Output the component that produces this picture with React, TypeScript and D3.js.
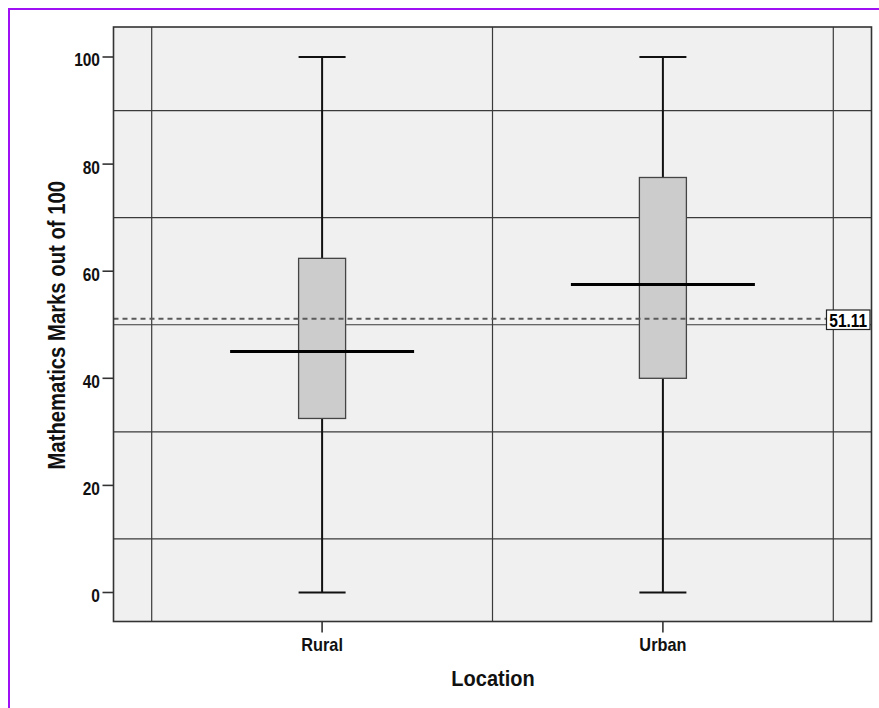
import React from "react";
import * as d3 from "d3";

const categories = ["Rural", "Urban"];
const minVals = [0, 0];
const q1Vals = [32.5, 40];
const medianVals = [45, 57.5];
const q3Vals = [62.4, 77.5];
const maxVals = [100, 100];
const meanRef = 51.11;
const yTicks = [0, 20, 40, 60, 80, 100];
const yGrid = [10, 30, 50, 70, 90];

export default function App() {
  const W = 879, H = 708;
  const plotL = 113.5, plotR = 871.5, plotT = 27, plotB = 621.5;
  const y = d3.scaleLinear().domain([0, 100]).range([592.5, 57]);
  const x = d3.scaleBand().domain(categories).range([151.7, 833.3]).padding(0);
  const bw = x.bandwidth();
  const boxW = 47;
  const medW = 184;
  const font = "'Liberation Sans', Arial, sans-serif";
  const labelX = 826.5;

  return (
    <svg width={W} height={H} style={{ position: "absolute", left: 0, top: 0, display: "block" }}>
      <rect x={0} y={0} width={W} height={H} fill="#ffffff" />
      <rect x={9} y={9} width={W + 50} height={H + 50} fill="none" stroke="#a010f5" strokeWidth={2} />
      <rect x={plotL} y={plotT} width={plotR - plotL} height={plotB - plotT} fill="#f0f0f0" />
      {yGrid.map((v) => (
        <line key={"g" + v} x1={plotL} x2={plotR} y1={y(v)} y2={y(v)} stroke="#3a3a3a" strokeWidth={1.2} />
      ))}
      {[...categories.map((c) => x(c)!), 833.3].map((v, i) => (
        <line key={"vg" + i} x1={v} x2={v} y1={plotT} y2={plotB} stroke="#3a3a3a" strokeWidth={1.2} />
      ))}
      {categories.map((c, i) => {
        const cx = x(c)! + bw / 2;
        return (
          <g key={c}>
            <line x1={cx} x2={cx} y1={y(maxVals[i])} y2={y(q3Vals[i])} stroke="#111" strokeWidth={2} />
            <line x1={cx} x2={cx} y1={y(q1Vals[i])} y2={y(minVals[i])} stroke="#111" strokeWidth={2} />
            <line x1={cx - boxW / 2} x2={cx + boxW / 2} y1={y(maxVals[i])} y2={y(maxVals[i])} stroke="#111" strokeWidth={2} />
            <line x1={cx - boxW / 2} x2={cx + boxW / 2} y1={y(minVals[i])} y2={y(minVals[i])} stroke="#111" strokeWidth={2} />
            <rect x={cx - boxW / 2} y={y(q3Vals[i])} width={boxW} height={y(q1Vals[i]) - y(q3Vals[i])} fill="#cccccc" stroke="#444" strokeWidth={1.3} />
          </g>
        );
      })}
      <line x1={plotL} x2={labelX} y1={y(meanRef)} y2={y(meanRef)} stroke="#5a5a5a" strokeWidth={2} strokeDasharray="5,4" />
      {categories.map((c, i) => {
        const cx = x(c)! + bw / 2;
        return (
          <line key={"m" + c} x1={cx - medW / 2} x2={cx + medW / 2} y1={y(medianVals[i])} y2={y(medianVals[i])} stroke="#000" strokeWidth={3} />
        );
      })}
      <rect x={labelX} y={310} width={43.5} height={19.5} fill="#ffffff" stroke="#222" strokeWidth={1.2} />
      <text transform={`translate(${labelX + 21.75}, 326.5) scale(1, 1.2)`} textAnchor="middle" fontFamily={font} fontWeight="bold" fontSize={15.5} fill="#000">
        {meanRef.toFixed(2)}
      </text>
      <rect x={plotL} y={plotT} width={plotR - plotL} height={plotB - plotT} fill="none" stroke="#333" strokeWidth={1.6} />
      {yTicks.map((v) => (
        <g key={"t" + v}>
          <line x1={plotL - 11} x2={plotL} y1={y(v)} y2={y(v)} stroke="#333" strokeWidth={1.6} />
          <text transform={`translate(${plotL - 13.5}, ${y(v) + 9.4}) scale(1, 1.17)`} textAnchor="end" fontFamily={font} fontWeight="bold" fontSize={15.5} fill="#111">
            {v}
          </text>
        </g>
      ))}
      {categories.map((c) => {
        const cx = x(c)! + bw / 2;
        return (
          <g key={"xt" + c}>
            <line x1={cx} x2={cx} y1={plotB} y2={plotB + 11} stroke="#333" strokeWidth={1.6} />
            <text transform={`translate(${cx}, 650.7) scale(1, 1.09)`} textAnchor="middle" fontFamily={font} fontWeight="bold" fontSize={16.3} fill="#111">
              {c}
            </text>
          </g>
        );
      })}
      <text transform={`translate(${(plotL + plotR) / 2 + 0.5}, 685.7) scale(1, 1.1)`} textAnchor="middle" fontFamily={font} fontWeight="bold" fontSize={20} fill="#111">
        Location
      </text>
      <text transform={`translate(65, ${(plotT + plotB) / 2 + 1}) rotate(-90) scale(1, 1.2)`} textAnchor="middle" fontFamily={font} fontWeight="bold" fontSize={20.3} fill="#111">
        Mathematics Marks out of 100
      </text>
    </svg>
  );
}
